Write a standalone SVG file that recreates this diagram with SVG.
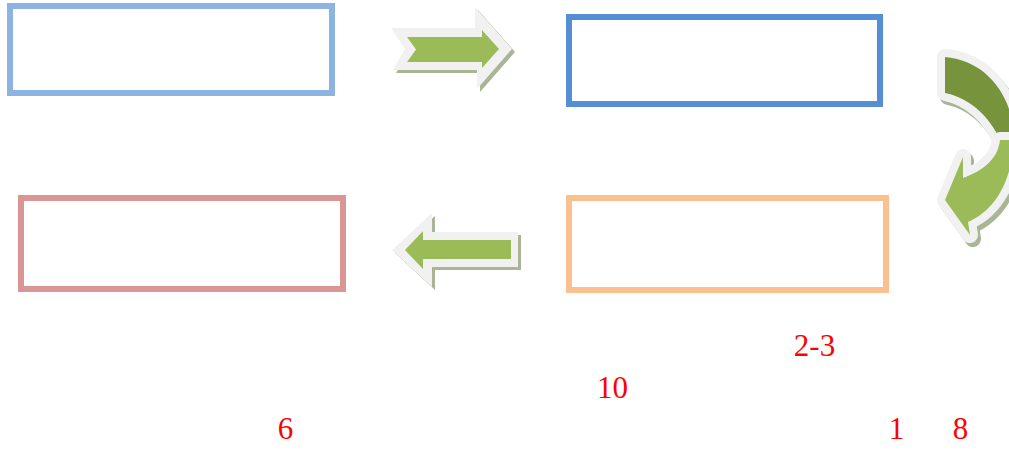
<svg xmlns="http://www.w3.org/2000/svg" width="1009" height="450" viewBox="0 0 1009 450">
<style>
.box{fill:#fff;stroke-width:6}
.num{font-family:"Liberation Serif","Noto Serif",serif;font-size:31px;fill:#ff0000;text-anchor:middle}
.sh{fill:#a9b594}
.wh{fill:#f1f1f1}
.g{fill:#9bbb59}
.gd{fill:#77933c}
.cw{stroke:#f1f1f1;stroke-width:16;stroke-linejoin:round}
.cs{fill:#a9b594;stroke:#a9b594;stroke-width:16;stroke-linejoin:round}
</style>
<rect width="1009" height="450" fill="#fff"/>
<g id="node1"><rect class="box" x="10" y="6" width="322" height="87" stroke="#8db3e2"/></g>
<g id="node2"><rect class="box" x="569" y="17" width="311" height="87" stroke="#558ed5"/></g>
<g id="node3"><rect class="box" x="569" y="198" width="317" height="92" stroke="#fac090"/></g>
<g id="node4"><rect class="box" x="21" y="198" width="322" height="91" stroke="#d99694"/></g>
<g id="connectors">
  <g id="arrow-right">
    <polygon class="sh" transform="translate(3,3)" points="391,28 475,28 475,7 512,49 477,89 477,70 393,70 405,49"/>
    <polygon class="wh" points="391,28 475,28 475,7 512,49 477,89 477,70 393,70 405,49"/>
    <polygon class="g" points="407,37 482,37 482,30 499,49 482,68 482,62 407,62 416,49.5"/>
  </g>
  <g id="arrow-curved">
    <g transform="translate(3,4)">
      <path class="cs" d="M945,57 C985,60 1014,95 1014,140 L1000,140 C990,117 970,98 945,93 Z"/>
      <path class="cs" d="M1014,140 C1012,180 996,210 968,222 L970,235 L945,200 L963,157 L963,178 C985,170 998,158 1000,140 Z"/>
    </g>
    <path class="gd cw" d="M945,57 C985,60 1014,95 1014,140 L1000,140 C990,117 970,98 945,93 Z"/>
    <path class="gd" d="M945,57 C985,60 1014,95 1014,140 L1000,140 C990,117 970,98 945,93 Z"/>
    <path class="g cw" d="M1014,140 C1012,180 996,210 968,222 L970,235 L945,200 L963,157 L963,178 C985,170 998,158 1000,140 Z"/>
    <path class="g" d="M1014,140 C1012,180 996,210 968,222 L970,235 L945,200 L963,157 L963,178 C985,170 998,158 1000,140 Z"/>
  </g>
  <g id="arrow-left">
    <polygon class="sh" transform="translate(3,3)" points="392,250 432,213 432,232 518,232 518,267 432,267 432,287"/>
    <polygon class="wh" points="392,250 432,213 432,232 518,232 518,267 432,267 432,287"/>
    <polygon class="g" points="405,250 423,231 423,240 511,240 511,259 423,259 423,269"/>
  </g>
</g>
<g id="labels">
  <text class="num" x="814.5" y="356">2-3</text>
  <text class="num" x="612.5" y="398">10</text>
  <text class="num" x="285.5" y="439">6</text>
  <text class="num" x="896.5" y="439">1</text>
  <text class="num" x="960.5" y="439">8</text>
</g>
</svg>
